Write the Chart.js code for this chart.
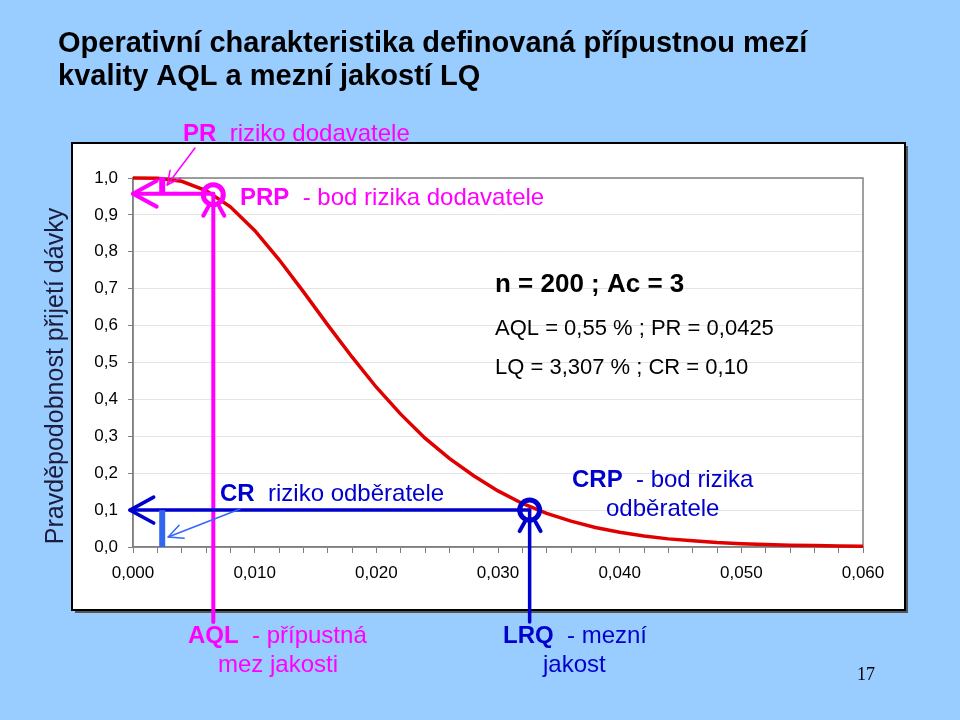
<!DOCTYPE html>
<html lang="cs">
<head>
<meta charset="utf-8">
<title>Operativní charakteristika</title>
<script src="https://cdn.jsdelivr.net/npm/chart.js@4.4.0/dist/chart.umd.min.js"></script>
<style>
  html, body { margin: 0; padding: 0; background: #99ccff; }
  #wrap { width: 960px; height: 720px; }
</style>
</head>
<body>
<div id="wrap"><canvas id="oc" width="960" height="720"></canvas></div>
<script>
// podíl neshodných jednotek p (osa x)
const pValues = [0, 0.002, 0.004, 0.006, 0.008, 0.010, 0.012, 0.014, 0.016, 0.018,
  0.020, 0.022, 0.024, 0.026, 0.028, 0.030, 0.032, 0.034, 0.036, 0.038,
  0.040, 0.042, 0.044, 0.046, 0.048, 0.050, 0.052, 0.054, 0.056, 0.058, 0.060];
// pravděpodobnost přijetí dávky L(p)
const paValues = [1.000, 0.999, 0.991, 0.966, 0.922, 0.858, 0.779, 0.692, 0.602, 0.515,
  0.433, 0.360, 0.295, 0.240, 0.193, 0.152, 0.118, 0.091, 0.070, 0.053,
  0.040, 0.030, 0.022, 0.017, 0.012, 0.009, 0.007, 0.005, 0.004, 0.003, 0.002];

// parametry plánu
const PR = 0.0425;
const CR = 0.10;
// body PRP a CRP, jak jsou vyznačené v obrázku
const prpX = 0.0066;
const crpX = 0.0326;
const riskBarX = 0.0024;

const SANS = "'Liberation Sans', Arial, sans-serif";
const MAGENTA = '#ff00ff';
const BLUE = '#0000cc';
const LIGHTBLUE = '#3366ff';

function line(ctx, x1, y1, x2, y2) {
  ctx.beginPath(); ctx.moveTo(x1, y1); ctx.lineTo(x2, y2); ctx.stroke();
}

// otevřená šipka, hrot v (tx, ty), směr od (fx, fy)
function arrowHead(ctx, tx, ty, fx, fy, len, ang) {
  const a = Math.atan2(ty - fy, tx - fx);
  ctx.beginPath();
  ctx.moveTo(tx - len * Math.cos(a - ang), ty - len * Math.sin(a - ang));
  ctx.lineTo(tx, ty);
  ctx.lineTo(tx - len * Math.cos(a + ang), ty - len * Math.sin(a + ang));
  ctx.stroke();
}

function ring(ctx, cx, cy, color) {
  ctx.strokeStyle = color;
  ctx.lineWidth = 5;
  ctx.beginPath(); ctx.arc(cx, cy, 10, 0, Math.PI * 2); ctx.stroke();
  ctx.lineWidth = 4;
  line(ctx, cx - 5, cy + 12, cx - 10, cy + 21);
  line(ctx, cx + 6, cy + 12, cx + 11, cy + 21);
}

// tučná + normální část textu za sebou
function runs(ctx, x, y, boldText, normalText, size, color) {
  ctx.fillStyle = color;
  ctx.textAlign = 'left';
  ctx.textBaseline = 'alphabetic';
  ctx.font = 'bold ' + size + 'px ' + SANS;
  ctx.fillText(boldText, x, y);
  const w = ctx.measureText(boldText).width;
  ctx.font = size + 'px ' + SANS;
  ctx.fillText(normalText, x + w, y);
}

const background = {
  id: 'background',
  beforeDraw(chart) {
    const ctx = chart.ctx;
    ctx.save();
    ctx.fillStyle = '#99ccff';
    ctx.fillRect(0, 0, chart.width, chart.height);
    ctx.fillStyle = '#555';
    ctx.fillRect(75, 146, 833, 467);
    ctx.fillStyle = '#fff';
    ctx.fillRect(72, 143, 833, 467);
    ctx.strokeStyle = '#000';
    ctx.lineWidth = 2;
    ctx.strokeRect(72, 143, 833, 467);
    ctx.restore();
  },
  beforeDatasetsDraw(chart) {
    const { ctx, chartArea: a } = chart;
    ctx.save();
    ctx.strokeStyle = '#808080';
    ctx.lineWidth = 1.5;
    ctx.strokeRect(a.left, a.top, a.right - a.left, a.bottom - a.top);
    ctx.restore();
  }
};

const annotations = {
  id: 'annotations',
  afterDraw(chart) {
    const ctx = chart.ctx;
    const xs = chart.scales.x, ys = chart.scales.y;
    const x0 = xs.getPixelForValue(0);
    ctx.save();
    ctx.lineCap = 'round';
    ctx.lineJoin = 'round';

    // titulek
    ctx.fillStyle = '#000';
    ctx.font = 'bold 29px ' + SANS;
    ctx.textAlign = 'left';
    ctx.fillText('Operativní charakteristika definovaná přípustnou mezí', 58, 52);
    ctx.fillText('kvality AQL a mezní jakostí LQ', 58, 85);

    // popis osy y
    ctx.save();
    ctx.translate(63, 376);
    ctx.rotate(-Math.PI / 2);
    ctx.fillStyle = '#1c1c3c';
    ctx.font = '25px ' + SANS;
    ctx.textAlign = 'center';
    ctx.fillText('Pravděpodobnost přijetí dávky', 0, 0);
    ctx.restore();

    // riziko dodavatele
    const prpPx = xs.getPixelForValue(prpX);
    const prY = ys.getPixelForValue(1 - PR);
    const barPx = xs.getPixelForValue(riskBarX);
    ctx.strokeStyle = MAGENTA;
    ctx.lineWidth = 4;
    line(ctx, x0, prY, prpPx, prY);
    arrowHead(ctx, x0, prY, x0 + 30, prY, 27, 0.5);
    line(ctx, prpPx, prY, prpPx, 622);
    ctx.fillStyle = MAGENTA;
    ctx.fillRect(barPx - 3, ys.getPixelForValue(1) - 1, 6, prY - ys.getPixelForValue(1) + 1);
    ctx.lineWidth = 1.5;
    line(ctx, 195, 148, barPx + 5, ys.getPixelForValue(1) + 7);
    arrowHead(ctx, barPx + 5, ys.getPixelForValue(1) + 7, 195, 148, 15, 0.45);
    ring(ctx, prpPx, prY + 1, MAGENTA);

    // riziko odběratele
    const crpPx = xs.getPixelForValue(crpX);
    const crY = ys.getPixelForValue(CR);
    const y0 = ys.getPixelForValue(0);
    ctx.strokeStyle = BLUE;
    ctx.lineWidth = 3.5;
    line(ctx, x0 - 3, crY, crpPx, crY);
    arrowHead(ctx, x0 - 3, crY, x0 + 30, crY, 27, 0.5);
    line(ctx, crpPx, crY, crpPx, 622);
    ctx.fillStyle = '#3366ee';
    ctx.fillRect(barPx - 3, crY, 6, y0 - crY);
    ctx.strokeStyle = LIGHTBLUE;
    ctx.lineWidth = 1.5;
    line(ctx, 240, 509, barPx + 6, y0 - 10);
    arrowHead(ctx, barPx + 6, y0 - 10, 240, 509, 16, 0.45);
    ring(ctx, crpPx, crY, BLUE);

    // texty
    runs(ctx, 183, 141, 'PR', '  riziko dodavatele', 24, MAGENTA);
    runs(ctx, 240, 205, 'PRP', '  - bod rizika dodavatele', 24, MAGENTA);
    runs(ctx, 220, 501, 'CR', '  riziko odběratele', 24, BLUE);
    runs(ctx, 572, 487, 'CRP', '  - bod rizika', 24, BLUE);
    ctx.font = '24px ' + SANS;
    ctx.fillText('odběratele', 606, 516);
    runs(ctx, 188, 643, 'AQL', '  - přípustná', 24, MAGENTA);
    ctx.fillText('mez jakosti', 218, 672);
    runs(ctx, 503, 643, 'LRQ', '  - mezní', 24, BLUE);
    ctx.fillText('jakost', 543, 672);

    ctx.fillStyle = '#000';
    ctx.font = 'bold 26px ' + SANS;
    ctx.fillText('n = 200 ; Ac = 3', 495, 292);
    ctx.font = '22px ' + SANS;
    ctx.fillText('AQL = 0,55 % ; PR = 0,0425', 495, 335);
    ctx.fillText('LQ = 3,307 % ; CR = 0,10', 495, 374);

    ctx.font = "18px 'Liberation Serif', 'Times New Roman', serif";
    ctx.fillText('17', 857, 680);
    ctx.restore();
  }
};

new Chart(document.getElementById('oc'), {
  type: 'line',
  data: {
    datasets: [{
      data: pValues.map((p, i) => ({ x: p, y: paValues[i] })),
      borderColor: '#e00000',
      borderWidth: 3.5,
      pointRadius: 0,
      tension: 0,
      fill: false,
      clip: 4
    }]
  },
  options: {
    responsive: false,
    animation: false,
    devicePixelRatio: 1,
    layout: { padding: { left: 72, right: 97, top: 178, bottom: 120 } },
    plugins: { legend: { display: false }, tooltip: { enabled: false } },
    scales: {
      x: {
        type: 'linear',
        min: 0,
        max: 0.06,
        afterFit(s) { s.height = 53; s.paddingLeft = 0; s.paddingRight = 0; },
        ticks: {
          stepSize: 0.002,
          autoSkip: false,
          maxRotation: 0,
          padding: 10,
          color: '#000',
          font: { family: SANS, size: 17 },
          callback: (v) => Math.abs(v / 0.01 - Math.round(v / 0.01)) < 1e-6 ? v.toFixed(3).replace('.', ',') : ''
        },
        grid: { drawOnChartArea: false, tickLength: 6, tickColor: '#808080' },
        border: { color: '#808080', width: 1.5 }
      },
      y: {
        min: 0,
        max: 1,
        afterFit(s) { s.width = 61; s.paddingTop = 0; s.paddingBottom = 0; },
        ticks: {
          stepSize: 0.1,
          padding: 10,
          color: '#000',
          font: { family: SANS, size: 17 },
          callback: (v) => v.toFixed(1).replace('.', ',')
        },
        grid: { color: '#e4e4e4', tickLength: 5, tickColor: '#808080' },
        border: { color: '#808080', width: 1.5 }
      }
    }
  },
  plugins: [background, annotations]
});
</script>
</body>
</html>
